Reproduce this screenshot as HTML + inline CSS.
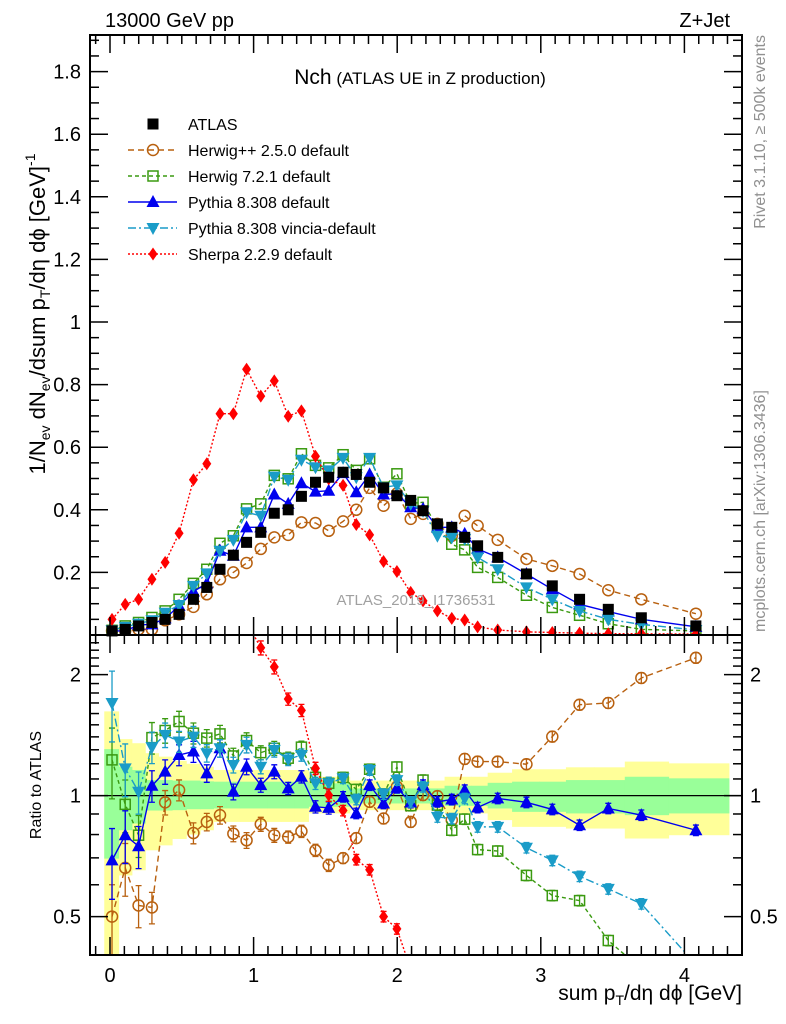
<!DOCTYPE html>
<html><head><meta charset="utf-8"><style>
html,body{margin:0;padding:0;background:#fff;overflow:hidden;width:786px;height:1024px;}
svg{display:block;font-family:"Liberation Sans",Arial,sans-serif;}
</style></head><body>
<svg id="chart" width="786" height="1024" viewBox="0 0 786 1024" xmlns="http://www.w3.org/2000/svg">
<defs>
<clipPath id="clipMain"><rect x="90" y="35" width="652" height="600"/></clipPath>
<clipPath id="clipRatio"><rect x="90" y="635" width="652" height="320"/></clipPath>
</defs>
<g id="bands" clip-path="url(#clipRatio)"></g>
<g id="gridlines"></g>
<g id="series"></g>
<g id="axes"></g>
<text x="105" y="27" font-size="20">13000 GeV pp</text>
<text x="730" y="27" font-size="20" text-anchor="end">Z+Jet</text>
<text x="420" y="84" text-anchor="middle"><tspan font-size="21">Nch</tspan><tspan font-size="17"> (ATLAS UE in Z production)</tspan></text>
<text x="416" y="605" font-size="15" fill="#a0a0a0" text-anchor="middle">ATLAS_2019_I1736531</text>
<text transform="translate(765,35) rotate(-90)" font-size="16" fill="#909090" text-anchor="end">Rivet 3.1.10, ≥ 500k events</text>
<text transform="translate(765,632) rotate(-90)" font-size="16" fill="#909090">mcplots.cern.ch [arXiv:1306.3436]</text>
<text transform="translate(45,314) rotate(-90)" font-size="22" text-anchor="middle">1/N<tspan font-size="14" dy="5">ev</tspan><tspan dy="-5"> dN</tspan><tspan font-size="14" dy="5">ev</tspan><tspan dy="-5">/dsum p</tspan><tspan font-size="14" dy="5">T</tspan><tspan dy="-5">/dη dϕ  [GeV]</tspan><tspan font-size="14" dy="-10">-1</tspan></text>
<text transform="translate(41,785) rotate(-90)" font-size="16" text-anchor="middle">Ratio to ATLAS</text>
<text x="742" y="1000" font-size="21" text-anchor="end">sum p<tspan font-size="14" dy="5">T</tspan><tspan dy="-5">/dη dϕ [GeV]</tspan></text>
<g id="legend"></g>
</svg>
<script>
const xVals=[0.014,0.106,0.199,0.292,0.384,0.481,0.581,0.674,0.766,0.859,0.951,1.05,1.144,1.241,1.333,1.431,1.523,1.623,1.715,1.808,1.905,1.998,2.094,2.18,2.28,2.38,2.47,2.56,2.70,2.90,3.08,3.27,3.47,3.70,4.08];
const atlasVals=[0.013,0.018,0.029,0.04,0.05,0.066,0.114,0.152,0.21,0.255,0.296,0.328,0.389,0.40,0.443,0.488,0.504,0.52,0.513,0.488,0.47,0.445,0.43,0.397,0.355,0.344,0.312,0.285,0.248,0.195,0.157,0.114,0.082,0.055,0.029];
const herwigppVals=[0.013,0.013,0.018,0.018,0.047,0.066,0.09,0.13,0.178,0.2,0.23,0.275,0.312,0.32,0.36,0.358,0.333,0.363,0.40,0.47,0.413,0.452,0.371,0.387,0.355,0.317,0.381,0.349,0.304,0.243,0.221,0.195,0.143,0.114,0.068];
const herwig7Vals=[0.015,0.029,0.04,0.056,0.077,0.114,0.165,0.21,0.293,0.317,0.403,0.419,0.51,0.499,0.579,0.542,0.534,0.576,0.526,0.563,0.472,0.515,0.42,0.424,0.344,0.29,0.272,0.216,0.184,0.127,0.088,0.063,0.036,0.018,0.013];
const pythiaVals=[0.013,0.013,0.032,0.034,0.053,0.093,0.139,0.165,0.269,0.253,0.344,0.344,0.449,0.419,0.485,0.458,0.461,0.517,0.456,0.513,0.449,0.451,0.408,0.403,0.344,0.344,0.323,0.275,0.248,0.195,0.146,0.098,0.075,0.05,0.026];
const vinciaVals=[0.015,0.026,0.036,0.047,0.071,0.096,0.157,0.197,0.269,0.304,0.392,0.381,0.506,0.496,0.56,0.536,0.526,0.566,0.504,0.566,0.472,0.478,0.419,0.397,0.317,0.312,0.307,0.248,0.21,0.152,0.114,0.077,0.05,0.034,0.016];
const sherpaVals=[0.05,0.098,0.114,0.178,0.232,0.325,0.496,0.547,0.707,0.707,0.849,0.763,0.812,0.699,0.716,0.571,0.499,0.478,0.353,0.32,0.235,0.203,0.136,0.109,0.077,0.053,0.048,0.026,0.016,0.01,0.008,0.006,0.004,0.004,0.003];

const herwigppRatio=[0.5,0.661,0.533,0.527,0.962,1.032,0.807,0.86,0.894,0.804,0.774,0.849,0.797,0.789,0.815,0.731,0.671,0.699,0.784,0.965,0.877,1.052,0.86,1.003,0.997,0.869,1.234,1.215,1.215,1.197,1.402,1.683,1.70,1.962,2.202];
const herwig7Ratio=[1.227,0.951,0.797,1.394,1.452,1.529,1.43,1.39,1.424,1.255,1.371,1.279,1.312,1.239,1.32,1.11,1.073,1.11,1.036,1.163,1.009,1.178,0.944,1.093,0.947,0.82,0.874,0.734,0.728,0.633,0.564,0.548,0.436,0.33,0.3];
const pythiaRatio=[0.69,0.797,0.748,1.058,1.147,1.262,1.287,1.136,1.312,1.022,1.18,1.062,1.147,1.042,1.114,0.938,0.932,0.993,0.903,1.062,0.956,1.046,0.961,1.062,0.965,0.978,1.032,0.934,0.984,0.962,0.924,0.844,0.929,0.894,0.82];
const vinciaRatio=[1.70,1.169,1.022,1.32,1.416,1.363,1.402,1.275,1.312,1.192,1.337,1.18,1.299,1.231,1.262,1.073,1.073,1.104,0.978,1.158,1.009,1.093,0.965,1.052,0.885,0.877,0.984,0.836,0.836,0.742,0.69,0.63,0.586,0.538,0.38];
const sherpaRatio=[3.8,5.0,3.8,4.4,4.6,4.9,4.3,3.6,3.4,2.77,2.87,2.332,2.091,1.739,1.629,1.169,1.003,0.918,0.693,0.654,0.5,0.466,0.32,0.27,0.22,0.15,0.15,0.1,0.1,0.1,0.1,0.1,0.1,0.1,0.1];
const ratioErr=[0.2,0.15,0.12,0.09,0.07,0.06,0.06,0.05,0.05,0.045,0.045,0.04,0.04,0.035,0.035,0.035,0.035,0.03,0.03,0.03,0.03,0.03,0.03,0.03,0.03,0.03,0.03,0.03,0.03,0.03,0.03,0.03,0.03,0.03,0.03];
const yellowHi=[1.62,1.382,1.35,1.275,1.25,1.22,1.2,1.18,1.158,1.158,1.158,1.158,1.158,1.158,1.158,1.114,1.114,1.114,1.09,1.09,1.09,1.09,1.09,1.09,1.09,1.114,1.114,1.114,1.14,1.163,1.163,1.176,1.176,1.215,1.203];
const yellowLo=[0.3,0.633,0.652,0.731,0.752,0.78,0.8,0.82,0.86,0.86,0.86,0.86,0.86,0.86,0.86,0.903,0.903,0.903,0.92,0.92,0.92,0.92,0.92,0.92,0.92,0.903,0.903,0.903,0.869,0.836,0.836,0.828,0.828,0.782,0.797];
const greenHi=[1.305,1.18,1.158,1.093,1.093,1.09,1.09,1.085,1.083,1.083,1.083,1.083,1.083,1.083,1.083,1.073,1.073,1.073,1.042,1.042,1.042,1.042,1.042,1.042,1.042,1.058,1.058,1.058,1.076,1.083,1.083,1.093,1.093,1.114,1.104];
const greenLo=[0.697,0.82,0.852,0.918,0.918,0.92,0.925,0.925,0.929,0.929,0.929,0.929,0.929,0.929,0.929,0.938,0.938,0.938,0.956,0.956,0.956,0.956,0.956,0.956,0.956,0.943,0.943,0.943,0.929,0.911,0.911,0.903,0.903,0.894,0.903];
const xTickLabels=["0","1","2","3","4"];
const yTickLabels=["0","0.2","0.4","0.6","0.8","1","1.2","1.4","1.6","1.8"];
const rTickLabels=["0.5","1","2"];

const NS="http://www.w3.org/2000/svg";
const L=90,R=742,T=35,MB=635,RB=955;
const RMIN=0.37,RMAX=2.7;
const X=v=>110+143.6*v;
const Y=v=>635-313*v;
const RY=r=>795.6-121*Math.log2(r);
const RYc=r=>RY(Math.min(RMAX,Math.max(RMIN,r)));
function mk(tag,attrs,parent){const e=document.createElementNS(NS,tag);for(const k in attrs)e.setAttribute(k,attrs[k]);parent.appendChild(e);return e;}

const bands=document.getElementById('bands');
function edges(i){const l=i===0?X(-0.04):(X(xVals[i-1])+X(xVals[i]))/2;const r=i===xVals.length-1?X(4.31):(X(xVals[i])+X(xVals[i+1]))/2;return [l,r];}
for(let i=0;i<xVals.length;i++){
 const [l,r]=edges(i);
 const yb=mk('rect',{x:l,y:RYc(yellowHi[i]),width:r-l+0.5,height:RYc(yellowLo[i])-RYc(yellowHi[i]),fill:'#ffff99'},bands);
 
 
}
for(let i=0;i<xVals.length;i++){
 const [l,r]=edges(i);
 const gb=mk('rect',{x:l,y:RYc(greenHi[i]),width:r-l+0.5,height:RYc(greenLo[i])-RYc(greenHi[i]),fill:'#99ff99'},bands);
 
 
}
const refLine=mk('line',{x1:L,x2:R,y1:RY(1),y2:RY(1),stroke:'#000','stroke-width':1.2},document.getElementById('gridlines'));



function marker(type,cx,cy,color,g){
 let e;
 if(type==='square')e=mk('rect',{x:cx-5.5,y:cy-5.5,width:11,height:11,fill:'#000'},g);
 else if(type==='circle')e=mk('circle',{cx:cx,cy:cy,r:5.5,fill:'none',stroke:color,'stroke-width':1.5},g);
 else if(type==='osquare')e=mk('rect',{x:cx-5,y:cy-5,width:10,height:10,fill:'none',stroke:color,'stroke-width':1.5},g);
 else if(type==='tri')e=mk('polygon',{points:`${cx},${cy-7} ${cx-6.5},${cy+5} ${cx+6.5},${cy+5}`,fill:color},g);
 else if(type==='dtri')e=mk('polygon',{points:`${cx},${cy+7} ${cx-6.5},${cy-5} ${cx+6.5},${cy-5}`,fill:color},g);
 else if(type==='diamond')e=mk('polygon',{points:`${cx},${cy-6.5} ${cx-4.5},${cy} ${cx},${cy+6.5} ${cx+4.5},${cy}`,fill:color},g);
 return e;
}
const series=[
 {name:'herwigpp',vals:herwigppVals,ratio:herwigppRatio,color:'#b8600f',dash:'6,4',m:'circle',label:'Herwig++ 2.5.0 default'},
 {name:'herwig7',vals:herwig7Vals,ratio:herwig7Ratio,color:'#3a9a10',dash:'4,3',m:'osquare',label:'Herwig 7.2.1 default'},
 {name:'pythia',vals:pythiaVals,ratio:pythiaRatio,color:'#0000ee',dash:'',m:'tri',label:'Pythia 8.308 default'},
 {name:'vincia',vals:vinciaVals,ratio:vinciaRatio,color:'#1a9cc8',dash:'8,3,2,3',m:'dtri',label:'Pythia 8.308 vincia-default'},
 {name:'sherpa',vals:sherpaVals,ratio:sherpaRatio,color:'#ff0000',dash:'2,2',m:'diamond',label:'Sherpa 2.2.9 default'}
];
const sg=document.getElementById('series');
series.forEach(s=>{
 const gm=mk('g',{'clip-path':'url(#clipMain)'},sg);
 
 
 const ln=mk('polyline',{points:xVals.map((x,i)=>X(x)+','+Y(s.vals[i])).join(' '),fill:'none',stroke:s.color,'stroke-width':1.4,'stroke-dasharray':s.dash},gm);
 
 
 xVals.forEach((x,i)=>{const p=marker(s.m,X(x),Y(s.vals[i]),s.color,gm);
  
  });
 const gr=mk('g',{'clip-path':'url(#clipRatio)'},sg);
 
 
 const rl=mk('polyline',{points:xVals.map((x,i)=>X(x)+','+RYc(s.ratio[i])).join(' '),fill:'none',stroke:s.color,'stroke-width':1.4,'stroke-dasharray':s.dash},gr);
 
 
 xVals.forEach((x,i)=>{
  const r=s.ratio[i];
  if(r<RMIN||r>RMAX)return;
  const e=ratioErr[i]*r;
  const eb=mk('path',{d:`M${X(x)},${RYc(r+e)}V${RYc(r-e)}M${X(x)-3},${RYc(r+e)}h6M${X(x)-3},${RYc(r-e)}h6`,stroke:s.color,'stroke-width':1.3,fill:'none'},gr);
  
  
  const p=marker(s.m,X(x),RY(r),s.color,gr);
  
  
 });
});
const ga=mk('g',{},sg);


xVals.forEach((x,i)=>{const p=marker('square',X(x),Y(atlasVals[i]),'#000',ga);
 
 });

const ax=document.getElementById('axes');
mk('rect',{x:L,y:T,width:R-L,height:RB-T,fill:'none',stroke:'#000','stroke-width':2},ax);
mk('line',{x1:L,x2:R,y1:MB,y2:MB,stroke:'#000','stroke-width':2},ax);
function tick(x1,y1,x2,y2){mk('line',{x1,y1,x2,y2,stroke:'#000','stroke-width':1.5},ax);}
for(let k=-1;k<=43;k++){const v=k/10;const x=X(v);if(x<L+1||x>R-1)continue;const maj=k%10===0;const len=maj?18:9;
 tick(x,T,x,T+len);tick(x,MB,x,MB-len);tick(x,MB,x,MB+len);tick(x,RB,x,RB-len);}
xTickLabels.forEach((lab,i)=>{const t=mk('text',{x:X(i),y:982,'font-size':20,'text-anchor':'middle'},ax);t.textContent=lab;
 
 });
for(let k=1;k<=38;k++){const v=k*0.05;const y=Y(v);if(y<T+1)continue;const maj=k%4===0;const len=maj?18:9;tick(L,y,L+len,y);tick(R,y,R-len,y);}
yTickLabels.forEach((lab,i)=>{if(i===0)return;const t=mk('text',{x:81,y:Y(i*0.2)+7,'font-size':20,'text-anchor':'end'},ax);t.textContent=lab;
 
 });
[0.4,0.5,0.6,0.7,0.8,0.9,1,1.1,1.2,1.3,1.4,1.5,1.6,1.7,1.8,1.9,2,2.1,2.2,2.3,2.4,2.5].forEach(r=>{const y=RY(r);if(y>RB-1||y<MB+1)return;const maj=(r===0.5||r===1||r===2);const len=maj?18:9;tick(L,y,L+len,y);tick(R,y,R-len,y);});
rTickLabels.forEach(lab=>{const y=RY(parseFloat(lab));
 const t=mk('text',{x:81,y:y+7,'font-size':20,'text-anchor':'end'},ax);t.textContent=lab;
 
 
 const t2=mk('text',{x:750,y:y+7,'font-size':20},ax);t2.textContent=lab;
 
 });

const lg=document.getElementById('legend');
const rows=[{label:'ATLAS',m:'square',color:'#000',dash:null}].concat(series);
rows.forEach((s,i)=>{const y=124+26*i;
 const g=mk('g',{},lg);
 
 
 if(s.dash!==null)mk('line',{x1:128,x2:177,y1:y,y2:y,stroke:s.color,'stroke-width':1.4,'stroke-dasharray':s.dash},g);
 marker(s.m,153,y,s.color,g);
 const t=mk('text',{x:188,y:y+6,'font-size':16},g);t.textContent=s.label;});
</script>
</body></html>
